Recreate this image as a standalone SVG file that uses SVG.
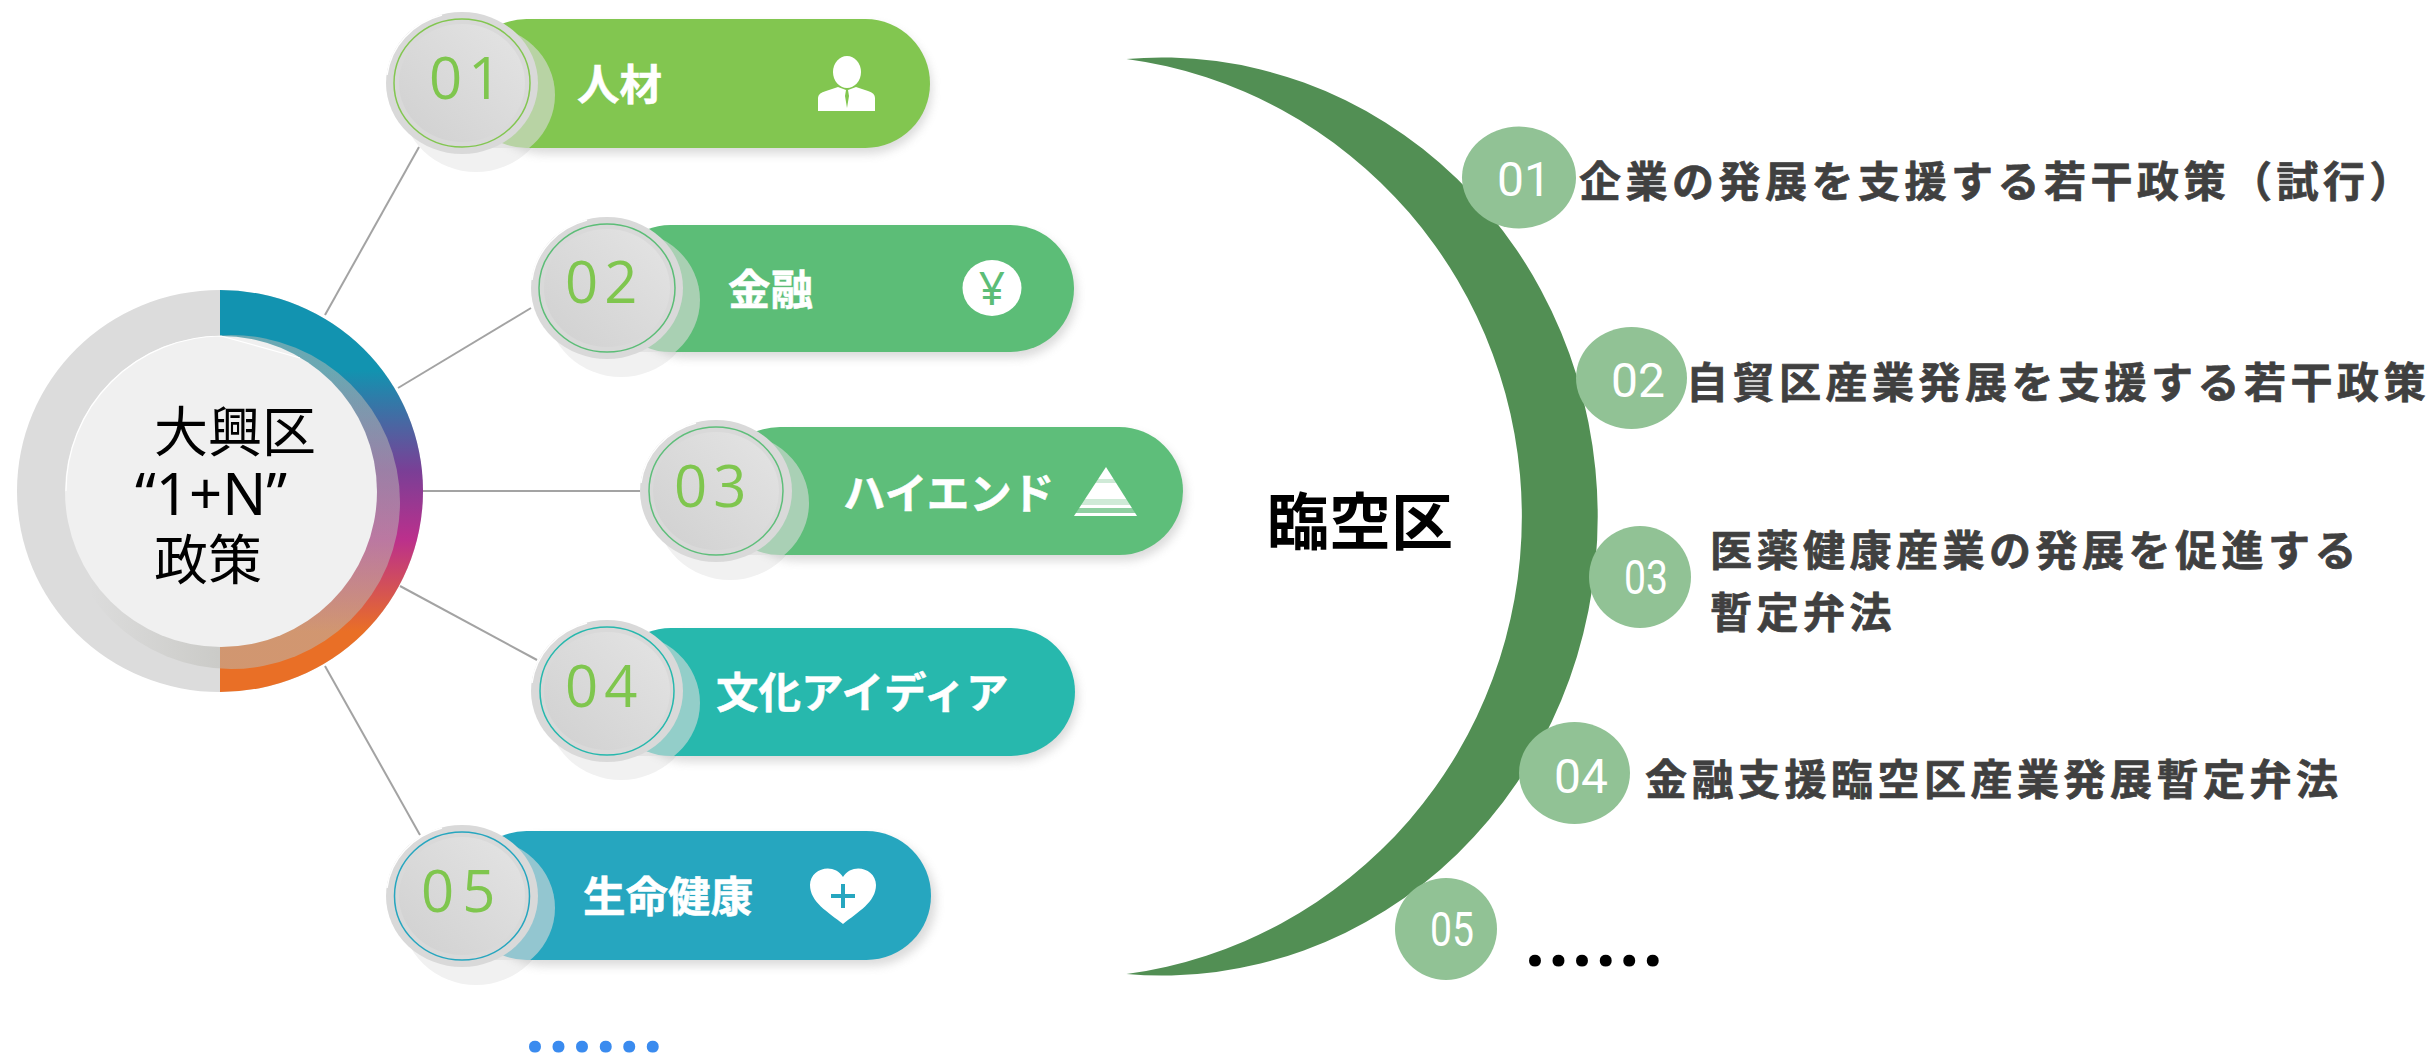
<svg xmlns="http://www.w3.org/2000/svg" xmlns:xlink="http://www.w3.org/1999/xlink" width="2433" height="1054" viewBox="0 0 2433 1054">
<style>
.cjk{font-family:"Noto Sans CJK JP","Noto Sans",sans-serif}
.pl{font-family:"Noto Sans CJK JP",sans-serif;font-weight:700;font-size:42.500px;fill:#fff;stroke:#fff;stroke-width:.5px}
.num{font-family:"Open Sans","Noto Sans",sans-serif;font-weight:400;font-size:58px;fill:#7fc64e}
.rt{font-family:"Noto Sans CJK JP",sans-serif;font-weight:700;font-size:42px;fill:#404040;stroke:#404040;stroke-width:.7px;letter-spacing:4.500px}
.rn{font-family:Roboto,"Noto Sans",sans-serif;font-size:48px;fill:#fff;text-anchor:middle}
.rc{fill:#91c295}
.link{stroke:#a3a3a3;stroke-width:2;fill:none}
.band{fill:#dcdcdc;opacity:.6}
.dots{font-family:"Open Sans",sans-serif;font-weight:700;font-size:70px;letter-spacing:3.600px}
</style>
<defs>
<linearGradient id="rg" x1="0" y1="290" x2="0" y2="692" gradientUnits="userSpaceOnUse">
<stop offset="0" stop-color="#1293b0"/><stop offset=".2" stop-color="#1293b0"/><stop offset=".45" stop-color="#7a3f96"/><stop offset=".62" stop-color="#bb308c"/><stop offset=".85" stop-color="#e96f26"/><stop offset="1" stop-color="#e96f26"/>
</linearGradient>
<linearGradient id="ov" x1="90" y1="0" x2="220" y2="0" gradientUnits="userSpaceOnUse">
<stop offset="0" stop-color="#bbbbb5" stop-opacity="0"/><stop offset="1" stop-color="#bbbbb5" stop-opacity=".52"/>
</linearGradient>
<linearGradient id="dg" x1="1" y1="0" x2="0" y2="1">
<stop offset="0" stop-color="#e4e4e4"/><stop offset="1" stop-color="#d0d0d0"/>
</linearGradient>
<linearGradient id="tri" x1="0" y1="0" x2="0" y2="1">
<stop offset="0" stop-color="#fff"/><stop offset=".24" stop-color="#fff"/><stop offset=".24" stop-color="#cfead7"/><stop offset=".32" stop-color="#cfead7"/><stop offset=".32" stop-color="#fff"/><stop offset=".66" stop-color="#fff"/><stop offset=".66" stop-color="#cfead7"/><stop offset=".78" stop-color="#cfead7"/><stop offset=".78" stop-color="#fff"/><stop offset=".84" stop-color="#fff"/><stop offset=".84" stop-color="#8fd0a2"/><stop offset=".94" stop-color="#8fd0a2"/><stop offset=".94" stop-color="#fff"/><stop offset="1" stop-color="#fff"/>
</linearGradient>
<filter id="bl" x="-20%" y="-40%" width="140%" height="180%"><feGaussianBlur stdDeviation="5"/></filter>
<g id="under"><ellipse cx="14" cy="18" rx="74" ry="71" fill="#f1f1f1"/></g>
<g id="disc">
<ellipse cx="0" cy="0" rx="76" ry="71" fill="#d9d9d9"/>
<path d="M-75,-8 A76 71 0 0 1 -20,-68" fill="none" stroke="#fff" stroke-width="1.500"/>
<ellipse cx="0" cy="0" rx="63" ry="59" fill="url(#dg)"/>
</g>
<clipPath id="c1"><rect x="462" y="19" width="200" height="129"/></clipPath>
<clipPath id="c2"><rect x="607" y="225" width="200" height="127"/></clipPath>
<clipPath id="c3"><rect x="716" y="427" width="200" height="128"/></clipPath>
<clipPath id="c4"><rect x="607" y="628" width="200" height="128"/></clipPath>
<clipPath id="c5"><rect x="462" y="831" width="200" height="129"/></clipPath>
</defs>
<rect width="2433" height="1054" fill="#fff"/>

<g id="connectors">
<line class="link" x1="325" y1="315" x2="419" y2="147"/>
<line class="link" x1="398" y1="388" x2="531" y2="308"/>
<line class="link" x1="423" y1="491" x2="640" y2="491" stroke-width="3"/>
<line class="link" x1="400" y1="586" x2="537" y2="660"/>
<line class="link" x1="325" y1="666" x2="420" y2="835"/>
</g>

<g id="hub">
<ellipse cx="220" cy="491" rx="203" ry="201" fill="#dcdcdc"/>
<path d="M220,290 A203 201 0 0 1 220,692 Z" fill="url(#rg)"/>
<ellipse cx="231" cy="502" rx="169" ry="167" fill="url(#ov)"/>
<ellipse cx="221" cy="491.500" rx="156" ry="155.500" fill="#f0f0f0"/>
<path d="M66,491 A156 155 0 0 1 221,336 L300,358" fill="none" stroke="#fff" stroke-width="1.200"/>
<text fill="#000"><tspan class="cjk" x="154" y="452" font-size="54">大興区</tspan><tspan x="135" y="515" font-family="Noto Sans,sans-serif" font-size="58">“1+N”</tspan><tspan class="cjk" x="154" y="580" font-size="54">政策</tspan></text>
</g>

<g id="node-1">
<use xlink:href="#under" href="#under" x="462" y="83"/>
<rect x="480" y="25" width="452" height="129" rx="64.500" fill="#8a8a8a" opacity=".3" filter="url(#bl)"/>
<rect x="462" y="19" width="468" height="129" rx="64.500" fill="#82c650"/>
<ellipse class="band" cx="480" cy="95" rx="75" ry="70" clip-path="url(#c1)"/>
<use xlink:href="#disc" href="#disc" x="462" y="83"/>
<ellipse cx="462" cy="83" rx="68" ry="64" fill="none" stroke="#82c650" stroke-width="1.500"/>
<text class="num" x="429" y="99" letter-spacing="6">01</text>
<text class="pl" x="577" y="100">人材</text>
<g fill="#fff"><ellipse cx="847" cy="72" rx="14" ry="16"/><path d="M818,111 V98 Q818,93 826,91 L838,87 L846,90 L845,96 L847,108 L849,96 L848,90 L856,87 L868,91 Q875,93 875,98 V111 Z"/></g>
</g>

<g id="node-2">
<use xlink:href="#under" href="#under" x="607" y="288"/>
<rect x="625" y="231" width="452" height="127" rx="63.500" fill="#8a8a8a" opacity=".3" filter="url(#bl)"/>
<rect x="607" y="225" width="467" height="127" rx="63.500" fill="#5cbd77"/>
<ellipse class="band" cx="625" cy="300" rx="75" ry="70" clip-path="url(#c2)"/>
<use xlink:href="#disc" href="#disc" x="607" y="288"/>
<ellipse cx="607" cy="288" rx="68" ry="64" fill="none" stroke="#5cbd77" stroke-width="1.500"/>
<text class="num" x="565" y="303" letter-spacing="6">02</text>
<text class="pl" x="728" y="305">金融</text>
<ellipse cx="992" cy="288" rx="29.500" ry="28" fill="#fff"/>
<text x="992" y="305" font-family="Noto Sans,sans-serif" font-size="46" text-anchor="middle" fill="#5cbd77">¥</text>
</g>

<g id="node-3">
<use xlink:href="#under" href="#under" x="716" y="491"/>
<rect x="734" y="433" width="452" height="128" rx="64" fill="#8a8a8a" opacity=".3" filter="url(#bl)"/>
<rect x="716" y="427" width="467" height="128" rx="64" fill="#5ebe7a"/>
<ellipse class="band" cx="734" cy="503" rx="75" ry="70" clip-path="url(#c3)"/>
<use xlink:href="#disc" href="#disc" x="716" y="491"/>
<ellipse cx="716" cy="491" rx="67" ry="64" fill="none" stroke="#5ebe7a" stroke-width="1.500"/>
<text class="num" x="674" y="507" letter-spacing="6">03</text>
<text class="pl" x="843" y="509">ハイエンド</text>
<polygon points="1106,467 1137,516 1074,516" fill="url(#tri)"/>
</g>

<g id="node-4">
<use xlink:href="#under" href="#under" x="607" y="691"/>
<rect x="625" y="634" width="453" height="128" rx="64" fill="#8a8a8a" opacity=".3" filter="url(#bl)"/>
<rect x="607" y="628" width="468" height="128" rx="64" fill="#27b8ad"/>
<ellipse class="band" cx="625" cy="703" rx="75" ry="70" clip-path="url(#c4)"/>
<use xlink:href="#disc" href="#disc" x="607" y="691"/>
<ellipse cx="607" cy="691" rx="67" ry="64" fill="none" stroke="#27b8ad" stroke-width="1.500"/>
<text class="num" x="565" y="707" letter-spacing="6">04</text>
<text class="pl" x="716" y="708">文化アイディア</text>
</g>

<g id="node-5">
<use xlink:href="#under" href="#under" x="462" y="896"/>
<rect x="480" y="837" width="456" height="129" rx="64.500" fill="#8a8a8a" opacity=".3" filter="url(#bl)"/>
<rect x="462" y="831" width="469" height="129" rx="64.500" fill="#26a6bf"/>
<ellipse class="band" cx="480" cy="908" rx="75" ry="70" clip-path="url(#c5)"/>
<use xlink:href="#disc" href="#disc" x="462" y="896"/>
<ellipse cx="462" cy="896" rx="67.500" ry="64" fill="none" stroke="#26a6bf" stroke-width="1.500"/>
<text class="num" x="421" y="912" letter-spacing="8">05</text>
<text class="pl" x="583" y="912">生命健康</text>
<path d="M843,924 C828,912 810,902 810,885 C810,868 834,862 843,877 C852,862 876,868 876,885 C876,902 858,912 843,924 Z" fill="#fff"/>
<path d="M843,884 V908 M831,896 H855" stroke="#26a6bf" stroke-width="4" fill="none"/>
</g>
<text id="left-more" class="dots" x="525" y="1052" fill="#3a8bef">......</text>

<g id="crescent">
<path d="M1126.500,59 A436 459 0 1 1 1126.500,974 A456 461.600 0 0 0 1126.500,59 Z" fill="#528f54"/>
<text x="1267" y="545" font-family="Noto Sans CJK JP,sans-serif" font-weight="700" font-size="62" fill="#000">臨空区</text>
</g>

<g id="item-1"><ellipse class="rc" cx="1519" cy="177.500" rx="57" ry="51"/><text class="rn" x="1524" y="196">01</text><text class="rt" x="1579" y="197">企業の発展を支援する若干政策（試行）</text></g>
<g id="item-2"><ellipse class="rc" cx="1631.500" cy="378" rx="55.500" ry="51"/><text class="rn" x="1638" y="397">02</text><text class="rt" x="1686" y="398">自貿区産業発展を支援する若干政策</text></g>
<g id="item-3"><ellipse class="rc" cx="1640" cy="577" rx="51" ry="51"/><text class="rn" x="1646" y="594" font-size="42" textLength="44" lengthAdjust="spacingAndGlyphs">03</text><text class="rt" x="1710" y="566">医薬健康産業の発展を促進する</text><text class="rt" x="1710" y="628">暫定弁法</text></g>
<g id="item-4"><ellipse class="rc" cx="1574.500" cy="773" rx="55.500" ry="51"/><text class="rn" x="1581" y="793">04</text><text class="rt" x="1645" y="795">金融支援臨空区産業発展暫定弁法</text></g>
<g id="item-5"><ellipse class="rc" cx="1446" cy="929" rx="51" ry="51"/><text class="rn" x="1452" y="946" font-size="42" textLength="44" lengthAdjust="spacingAndGlyphs">05</text></g>
<text id="right-more" class="dots" x="1525" y="966" fill="#000">......</text>
</svg>
